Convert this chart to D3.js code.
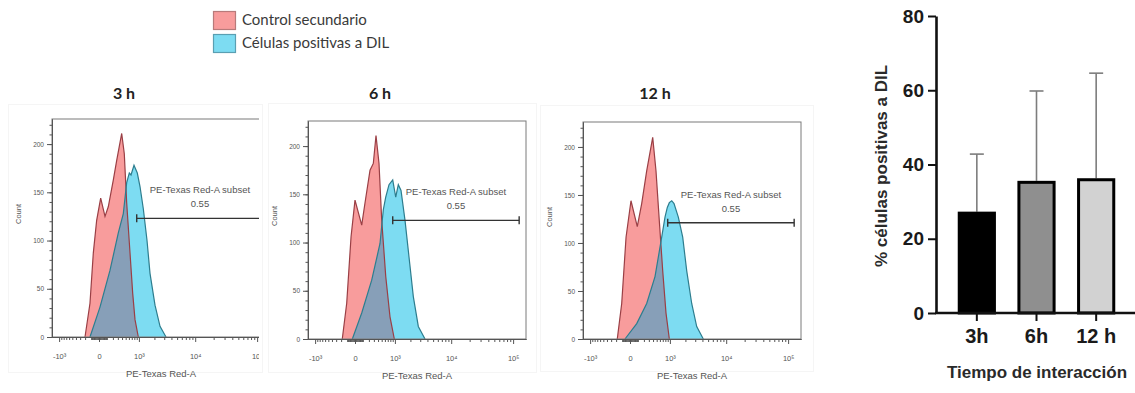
<!DOCTYPE html>
<html>
<head>
<meta charset="utf-8">
<script src="https://cdn.jsdelivr.net/npm/d3@7"></script>
<style>
  body { margin: 0; background: #fff; }
  svg { display: block; }
</style>
</head>
<body>
<svg id="chart" width="1135" height="393"></svg>
<script>
// histogram data: [PE-Texas Red-A value, count]
const control3h = [[-202,0],[-118,35],[-70,87],[-27,121],[19,144],[74,125],[122,135],[208,163],[275,183],[391,211],[460,190],[530,139],[638,87],[736,45],[827,18],[973,0]];
const dil3h = [[-118,0],[11,31],[149,69],[310,108],[433,128],[530,160],[614,170],[673,168],[786,178],[926,170],[1054,156],[1229,133],[1452,100],[1656,66],[2051,33],[2526,11],[3223,0]];
const control6h = [[-179,0],[-107,37],[-47,106],[0,144],[84,118],[133,141],[221,175],[288,182],[349,211],[425,182],[501,123],[628,65],[786,23],[973,0]];
const dil6h = [[-31,0],[84,27],[254,61],[452,99],[549,134],[628,147],[747,160],[900,165],[1040,147],[1174,160],[1328,154],[1586,123],[1884,85],[2259,44],[2775,13],[3634,0]];
const control12h = [[-179,0],[-107,37],[-47,106],[11,144],[92,117],[161,141],[254,175],[391,210],[480,175],[581,123],[698,71],[827,27],[973,0]];
const dil12h = [[-61,0],[84,16],[254,37],[452,65],[662,106],[786,127],[882,137],[973,142],[1090,144],[1213,141],[1472,127],[1782,106],[2113,71],[2598,37],[3184,13],[4141,0]];

const panelTitles = ["3 h", "6 h", "12 h"];
const gateRange = [900, 125000];
const gateCounts = [123, 123, 121];
const gateName = "PE-Texas Red-A subset";
const gateValue = "0.55";
const countTicks = [0, 50, 100, 150, 200];
const fluorTicks = [-1000, 0, 1000, 10000, 100000];
const fluorTickLabels = ["-10³", "0", "10³", "10⁴", "10⁵"];
const legendLabels = ["Control secundario", "Células positivas a DIL"];

// bar chart data
const timeLabels = ["3h", "6h", "12 h"];
const pctMean = [27.3, 35.6, 36.3];
const pctSD = [15.5, 24.2, 28.3];
const pctTicks = [0, 20, 40, 60, 80];

const svg = d3.select("#chart");
const defs = svg.append("defs");

const pink = "#f89c9c", cyan = "#7ddcf2", overlap = "#879fb8";
const redLine = "#9a3f45", blueLine = "#2d7d8e";

// ---------- legend ----------
const legend = svg.append("g").attr("transform", "translate(213,11)");
[[pink, "#b87a7a"], [cyan, "#5a9fb2"]].forEach((c, i) => {
  legend.append("rect")
    .attr("x", 0.5).attr("y", i * 23 + 0.5)
    .attr("width", 22).attr("height", 18)
    .attr("fill", c[0]).attr("stroke", c[1]).attr("stroke-width", 1.2);
  legend.append("text")
    .attr("x", 29).attr("y", i * 23 + 14)
    .attr("font-family", "Lato, sans-serif").attr("font-size", 15)
    .attr("fill", "#3a3a3a")
    .text(legendLabels[i]);
});

// ---------- histogram panels ----------
const panels = [
  { left: 52, top: 119, base: 337, control: control3h, dil: dil3h, clip: 259 },
  { left: 308, top: 121, base: 339, control: control6h, dil: dil6h },
  { left: 583, top: 122, base: 339, control: control12h, dil: dil12h }
];
const frames = [[8, 104, 254, 268], [268, 103, 268, 269], [540, 105, 273, 266]];
const plotW = 218;

// minor ticks like FlowJo: +-k*10^n around zero, decades on the positive side
const minorX = [];
[10, 100].forEach(m => d3.range(1, 10).forEach(k => { minorX.push(k * m); minorX.push(-k * m); }));
[1000, 10000].forEach(m => d3.range(2, 10).forEach(k => minorX.push(k * m)));

panels.forEach((p, i) => {
  // faint edge of each pasted FlowJo image
  svg.append("rect")
    .attr("x", frames[i][0] + 0.5).attr("y", frames[i][1] + 0.5)
    .attr("width", frames[i][2]).attr("height", frames[i][3])
    .attr("fill", "none").attr("stroke", "#f5f5f5");

  const g = svg.append("g");
  if (p.clip) {
    defs.append("clipPath").attr("id", "panelclip" + i)
      .append("rect").attr("x", 0).attr("y", 0).attr("width", p.clip).attr("height", 393);
    g.attr("clip-path", `url(#panelclip${i})`);
  }

  const x = d3.scaleSymlog().constant(300).domain([-1389, 160800]).range([p.left, p.left + plotW]);
  const y = d3.scaleLinear().domain([0, 226]).range([p.base, p.top]);

  // title
  svg.append("text")
    .attr("x", p.left + 72).attr("y", 99)
    .attr("text-anchor", "middle")
    .attr("font-family", "Lato, sans-serif").attr("font-weight", "bold").attr("font-size", 16)
    .attr("fill", "#222")
    .text(panelTitles[i]);

  const area = d3.area().x(d => x(d[0])).y0(y(0)).y1(d => y(d[1]));
  const line = d3.line().x(d => x(d[0])).y(d => y(d[1]));

  defs.append("clipPath").attr("id", "ctrl" + i).append("path").attr("d", area(p.control));

  g.append("path").attr("d", area(p.control)).attr("fill", pink);
  g.append("path").attr("d", area(p.dil)).attr("fill", cyan);
  g.append("path").attr("d", area(p.dil)).attr("fill", overlap).attr("clip-path", `url(#ctrl${i})`);
  g.append("path").attr("d", line(p.control)).attr("fill", "none")
    .attr("stroke", redLine).attr("stroke-width", 1.2);
  g.append("path").attr("d", line(p.dil)).attr("fill", "none")
    .attr("stroke", blueLine).attr("stroke-width", 1.2);

  // frame
  g.append("rect")
    .attr("x", p.left).attr("y", p.top)
    .attr("width", plotW).attr("height", p.base - p.top)
    .attr("fill", "none").attr("stroke", "#7a7a7a").attr("stroke-width", 1);

  // axes
  const axisStyle = sel => {
    sel.select(".domain").attr("stroke", "#555");
    sel.selectAll("line").attr("stroke", "#555");
    sel.selectAll("text").attr("fill", "#555").attr("font-family", "Liberation Sans, Arial, sans-serif");
  };
  g.append("g").attr("transform", `translate(${p.left},0)`)
    .call(d3.axisLeft(y).tickValues(d3.range(0, 226, 10)).tickSize(2.5).tickFormat("").tickSizeOuter(0))
    .call(axisStyle);
  g.append("g").attr("transform", `translate(${p.left},0)`)
    .call(d3.axisLeft(y).tickValues(countTicks).tickSize(5).tickPadding(3).tickSizeOuter(0))
    .attr("font-size", 6.5)
    .call(axisStyle);
  g.append("g").attr("transform", `translate(0,${p.base})`)
    .call(d3.axisBottom(x).tickValues(minorX).tickSize(3).tickFormat("").tickSizeOuter(0))
    .call(axisStyle);
  g.append("g").attr("transform", `translate(0,${p.base})`)
    .call(d3.axisBottom(x).tickValues(fluorTicks).tickSize(5).tickPadding(12).tickSizeOuter(0)
      .tickFormat((d, k) => fluorTickLabels[k]))
    .attr("font-size", 7.5)
    .call(axisStyle);

  // axis titles
  g.append("text")
    .attr("transform", `translate(${p.left - 31},${p.top + 95}) rotate(-90)`)
    .attr("text-anchor", "middle")
    .attr("font-family", "Liberation Sans, Arial, sans-serif").attr("font-size", 7.5)
    .attr("fill", "#555").text("Count");
  g.append("text")
    .attr("x", p.left + plotW / 2).attr("y", p.base + 40)
    .attr("text-anchor", "middle")
    .attr("font-family", "Liberation Sans, Arial, sans-serif").attr("font-size", 9.5)
    .attr("fill", "#555").text("PE-Texas Red-A");

  // gate
  const gy = y(gateCounts[i]);
  const gx0 = x(gateRange[0]), gx1 = x(gateRange[1]);
  const gate = g.append("g").attr("stroke", "#333").attr("stroke-width", 1.4);
  gate.append("line").attr("x1", gx0).attr("x2", gx1).attr("y1", gy).attr("y2", gy);
  [gx0, gx1].forEach(gx => gate.append("line").attr("x1", gx).attr("x2", gx).attr("y1", gy - 4).attr("y2", gy + 4));
  const gateText = g.append("g")
    .attr("font-family", "Liberation Sans, Arial, sans-serif").attr("font-size", 9.5)
    .attr("fill", "#555").attr("text-anchor", "middle");
  gateText.append("text").attr("x", (gx0 + gx1) / 2).attr("y", gy - 25).text(gateName);
  gateText.append("text").attr("x", (gx0 + gx1) / 2).attr("y", gy - 11).text(gateValue);
});

// ---------- bar chart ----------
const by = d3.scaleLinear().domain([0, 80]).range([313, 16]);
const bx = d3.scaleBand().domain(timeLabels).range([947, 1126]).paddingInner(0.36).paddingOuter(0.18);
const barFills = ["#000000", "#8f8f8f", "#d2d2d2"];
const font = "Liberation Sans, Arial, sans-serif";

const bar = svg.append("g");

// error bars (upper only)
timeLabels.forEach((t, i) => {
  const cx = bx(t) + bx.bandwidth() / 2;
  bar.append("line").attr("x1", cx).attr("x2", cx)
    .attr("y1", by(pctMean[i])).attr("y2", by(pctMean[i] + pctSD[i]))
    .attr("stroke", "#7d7d7d").attr("stroke-width", 1.6);
  bar.append("line").attr("x1", cx - 7).attr("x2", cx + 7)
    .attr("y1", by(pctMean[i] + pctSD[i])).attr("y2", by(pctMean[i] + pctSD[i]))
    .attr("stroke", "#7d7d7d").attr("stroke-width", 1.6);
});

bar.selectAll("rect.bar")
  .data(timeLabels)
  .join("rect")
  .attr("class", "bar")
  .attr("x", d => bx(d) + 1.5)
  .attr("width", bx.bandwidth() - 3)
  .attr("y", (d, i) => by(pctMean[i]) + 1.5)
  .attr("height", (d, i) => by(0) - by(pctMean[i]) - 1.5)
  .attr("fill", (d, i) => barFills[i])
  .attr("stroke", "#000").attr("stroke-width", 3);

const yAx = bar.append("g").attr("transform", "translate(936,0)")
  .call(d3.axisLeft(by).tickValues(pctTicks).tickSize(8).tickPadding(4).tickSizeOuter(0));
yAx.select(".domain").attr("stroke", "#111").attr("stroke-width", 2.6);
yAx.selectAll("line").attr("stroke", "#111").attr("stroke-width", 2);
yAx.selectAll("text").attr("font-family", font).attr("font-weight", "bold").attr("font-size", 19).attr("fill", "#1a1a1a");

const xAx = bar.append("g").attr("transform", "translate(0,313)")
  .call(d3.axisBottom(bx).tickSize(8).tickPadding(8).tickSizeOuter(0));
xAx.select(".domain").remove();
xAx.selectAll("line").attr("stroke", "#111").attr("stroke-width", 2);
xAx.selectAll("text").attr("font-family", font).attr("font-weight", "bold").attr("font-size", 20).attr("fill", "#1a1a1a");
bar.append("line").attr("x1", 935).attr("x2", 1135).attr("y1", 313).attr("y2", 313)
  .attr("stroke", "#111").attr("stroke-width", 2.6);

bar.append("text")
  .attr("transform", "translate(887,166) rotate(-90)")
  .attr("text-anchor", "middle")
  .attr("font-family", font).attr("font-weight", "bold").attr("font-size", 17).attr("fill", "#2a2a2a")
  .text("% células positivas a DIL");
bar.append("text")
  .attr("x", 1037).attr("y", 378)
  .attr("text-anchor", "middle")
  .attr("font-family", font).attr("font-weight", "bold").attr("font-size", 17).attr("fill", "#2a2a2a")
  .text("Tiempo de interacción");
</script>
</body>
</html>
